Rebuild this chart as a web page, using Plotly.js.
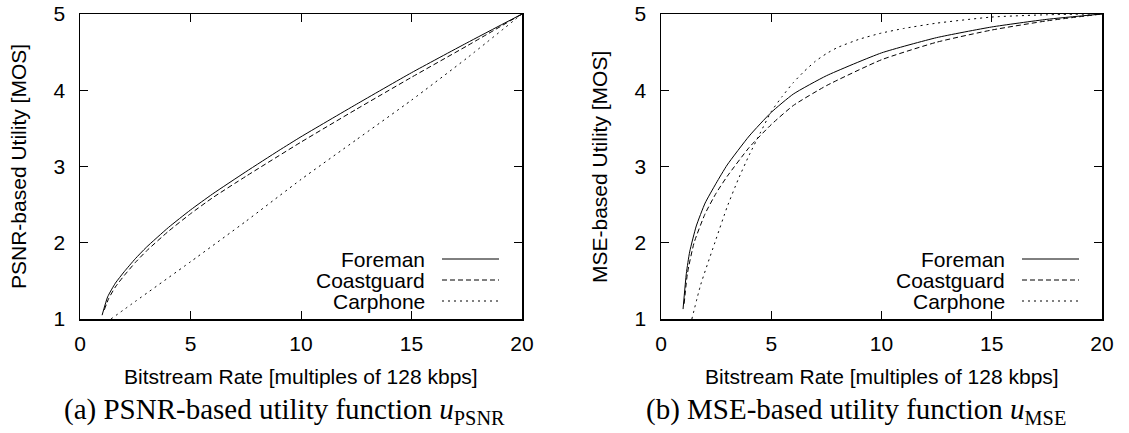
<!DOCTYPE html>
<html>
<head>
<meta charset="utf-8">
<script src="https://cdn.plot.ly/plotly-3.0.1.min.js"></script>
<style>html,body{margin:0;padding:0;background:#fff}#chart{width:1129px;height:433px}</style>
</head>
<body>
<div id="chart"></div>
<script>
// ---- data ----
const seriesNames = ['Foreman', 'Coastguard', 'Carphone'];
const xTickVals = [0, 5, 10, 15, 20];
const yTickVals = [1, 2, 3, 4, 5];

// PSNR-based utility
const foremanPsnrX = [1.0, 1.25, 1.6, 2, 2.5, 3, 4, 5, 6, 7.5, 9, 10, 12.5, 15, 17.5, 20];
const foremanPsnrY = [1.05, 1.29, 1.47, 1.62, 1.79, 1.94, 2.20, 2.43, 2.64, 2.93, 3.21, 3.39, 3.815, 4.23, 4.62, 5.0];
const coastPsnrX = [1.1, 1.3, 1.6, 2, 2.5, 3, 4, 5, 6, 7.5, 10, 12.5, 15, 17.5, 20];
const coastPsnrY = [1.12, 1.27, 1.42, 1.57, 1.74, 1.89, 2.15, 2.38, 2.59, 2.87, 3.32, 3.75, 4.17, 4.58, 5.0];
const carPsnrX = [1.4, 2.5, 5, 7.5, 10, 12.5, 15, 17.5, 20];
const carPsnrY = [1.0, 1.23, 1.75, 2.28, 2.83, 3.35, 3.87, 4.42, 5.0];

// MSE-based utility
const foremanMseX = [1.0, 1.15, 1.3, 1.6, 2.0, 2.5, 3.0, 4.0, 5.0, 6.0, 7.5, 10, 12.5, 15, 17.5, 20];
const foremanMseY = [1.13, 1.6, 1.88, 2.22, 2.52, 2.78, 3.02, 3.40, 3.71, 3.95, 4.19, 4.49, 4.69, 4.83, 4.93, 5.0];
const coastMseX = [1.05, 1.2, 1.5, 2, 2.5, 3, 4, 5, 6, 7.5, 10, 12.5, 15, 17.5, 20];
const coastMseY = [1.2, 1.6, 2.0, 2.38, 2.65, 2.87, 3.25, 3.55, 3.80, 4.06, 4.40, 4.63, 4.79, 4.91, 5.0];
const carMseX = [1.4, 1.8, 2.5, 3.0, 3.5, 4.0, 4.5, 5.0, 5.5, 6.0, 6.5, 7.0, 7.5, 8.0, 9.0, 10, 11, 12.5, 15, 17.5, 20];
const carMseY = [1.0, 1.45, 2.05, 2.47, 2.83, 3.15, 3.44, 3.72, 3.92, 4.10, 4.25, 4.38, 4.48, 4.56, 4.67, 4.75, 4.81, 4.88, 4.96, 4.99, 5.0];

const xTitle = 'Bitstream Rate [multiples of 128 kbps]';
const yTitles = ['PSNR-based Utility [MOS]', 'MSE-based Utility [MOS]'];
const captions = ['(a) PSNR-based utility function <i>u</i><sub>PSNR</sub>',
                  '(b) MSE-based utility function <i>u</i><sub>MSE</sub>'];

// ---- layout helpers ----
const W = 1129, H = 433;
const px = v => v / W;
const py = v => 1 - v / H;
const dashes = ['solid', '5px,3px', '2px,4px'];
const SANS = 'Liberation Sans, Arial, sans-serif';
const SERIF = 'Liberation Serif, Times New Roman, serif';
const FS = 21;

function tr(x, y, i, ax) {
  return {x: x, y: y, type: 'scatter', mode: 'lines', name: seriesNames[i],
    xaxis: ax[0], yaxis: ax[1], showlegend: false,
    line: {color: '#000', width: 1, dash: dashes[i], shape: 'spline', smoothing: 0.5}};
}

const data = [
  tr(foremanPsnrX, foremanPsnrY, 0, ['x', 'y']),
  tr(coastPsnrX, coastPsnrY, 1, ['x', 'y']),
  tr(carPsnrX, carPsnrY, 2, ['x', 'y']),
  tr(foremanMseX, foremanMseY, 0, ['x2', 'y2']),
  tr(coastMseX, coastMseY, 1, ['x2', 'y2']),
  tr(carMseX, carMseY, 2, ['x2', 'y2'])
];

const boxes = [[80, 522], [661, 1102]];
const captionCenters = [284, 856];
const boxTop = 14, boxBottom = 319;

function xAxis(i) {
  return {domain: [px(boxes[i][0]), px(boxes[i][1])], range: [0, 20], tickvals: xTickVals,
    ticks: 'inside', ticklen: 8, tickwidth: 1, tickcolor: '#000',
    showline: true, linecolor: '#000', linewidth: 1.5, mirror: 'ticks',
    showgrid: false, zeroline: false, fixedrange: true,
    ticklabelstandoff: 5,
    tickfont: {family: SANS, size: FS, color: '#000'},
    anchor: i === 0 ? 'y' : 'y2'};
}
function yAxis(i) {
  return {domain: [py(boxBottom), py(boxTop)], range: [1, 5], tickvals: yTickVals,
    ticks: 'inside', ticklen: 8, tickwidth: 1, tickcolor: '#000',
    showline: true, linecolor: '#000', linewidth: 1.5, mirror: 'ticks',
    showgrid: false, zeroline: false, fixedrange: true,
    ticklabelstandoff: 9,
    tickfont: {family: SANS, size: FS, color: '#000'},
    anchor: i === 0 ? 'x' : 'x2'};
}

const annotations = [];
const shapes = [];
for (let i = 0; i < 2; i++) {
  const [l, r] = boxes[i];
  const cx = (l + r) / 2;
  annotations.push({xref: 'paper', yref: 'paper', x: px(cx), y: py(376), text: xTitle,
    showarrow: false, xanchor: 'center', yanchor: 'middle',
    font: {family: SANS, size: FS, color: '#000'}});
  annotations.push({xref: 'paper', yref: 'paper', x: px(l - 62), y: py((boxTop + boxBottom) / 2 + 0.5), text: yTitles[i],
    showarrow: false, textangle: -90, xanchor: 'center', yanchor: 'middle',
    font: {family: SANS, size: FS, color: '#000'}});
  annotations.push({xref: 'paper', yref: 'paper', x: px(captionCenters[i]), y: py(411), text: captions[i],
    showarrow: false, xanchor: 'center', yanchor: 'middle',
    font: {family: SERIF, size: 29, color: '#000'}});
  const legY = [259, 280, 301];
  for (let k = 0; k < 3; k++) {
    annotations.push({xref: 'paper', yref: 'paper', x: px(r - 95), y: py(legY[k]), text: seriesNames[k],
      showarrow: false, xanchor: 'right', yanchor: 'middle',
      font: {family: SANS, size: FS, color: '#000'}});
    shapes.push({type: 'line', xref: 'paper', yref: 'paper',
      x0: px(r - 80), x1: px(r - 23), y0: py(legY[k]), y1: py(legY[k]),
      line: {color: '#000', width: 1, dash: dashes[k]}});
  }
}

const layout = {
  width: W, height: H, margin: {l: 0, r: 0, t: 0, b: 0},
  paper_bgcolor: '#fff', plot_bgcolor: '#fff', showlegend: false,
  xaxis: xAxis(0), yaxis: yAxis(0), xaxis2: xAxis(1), yaxis2: yAxis(1),
  annotations: annotations, shapes: shapes
};

Plotly.newPlot('chart', data, layout, {staticPlot: true, displayModeBar: false});
</script>
</body>
</html>
